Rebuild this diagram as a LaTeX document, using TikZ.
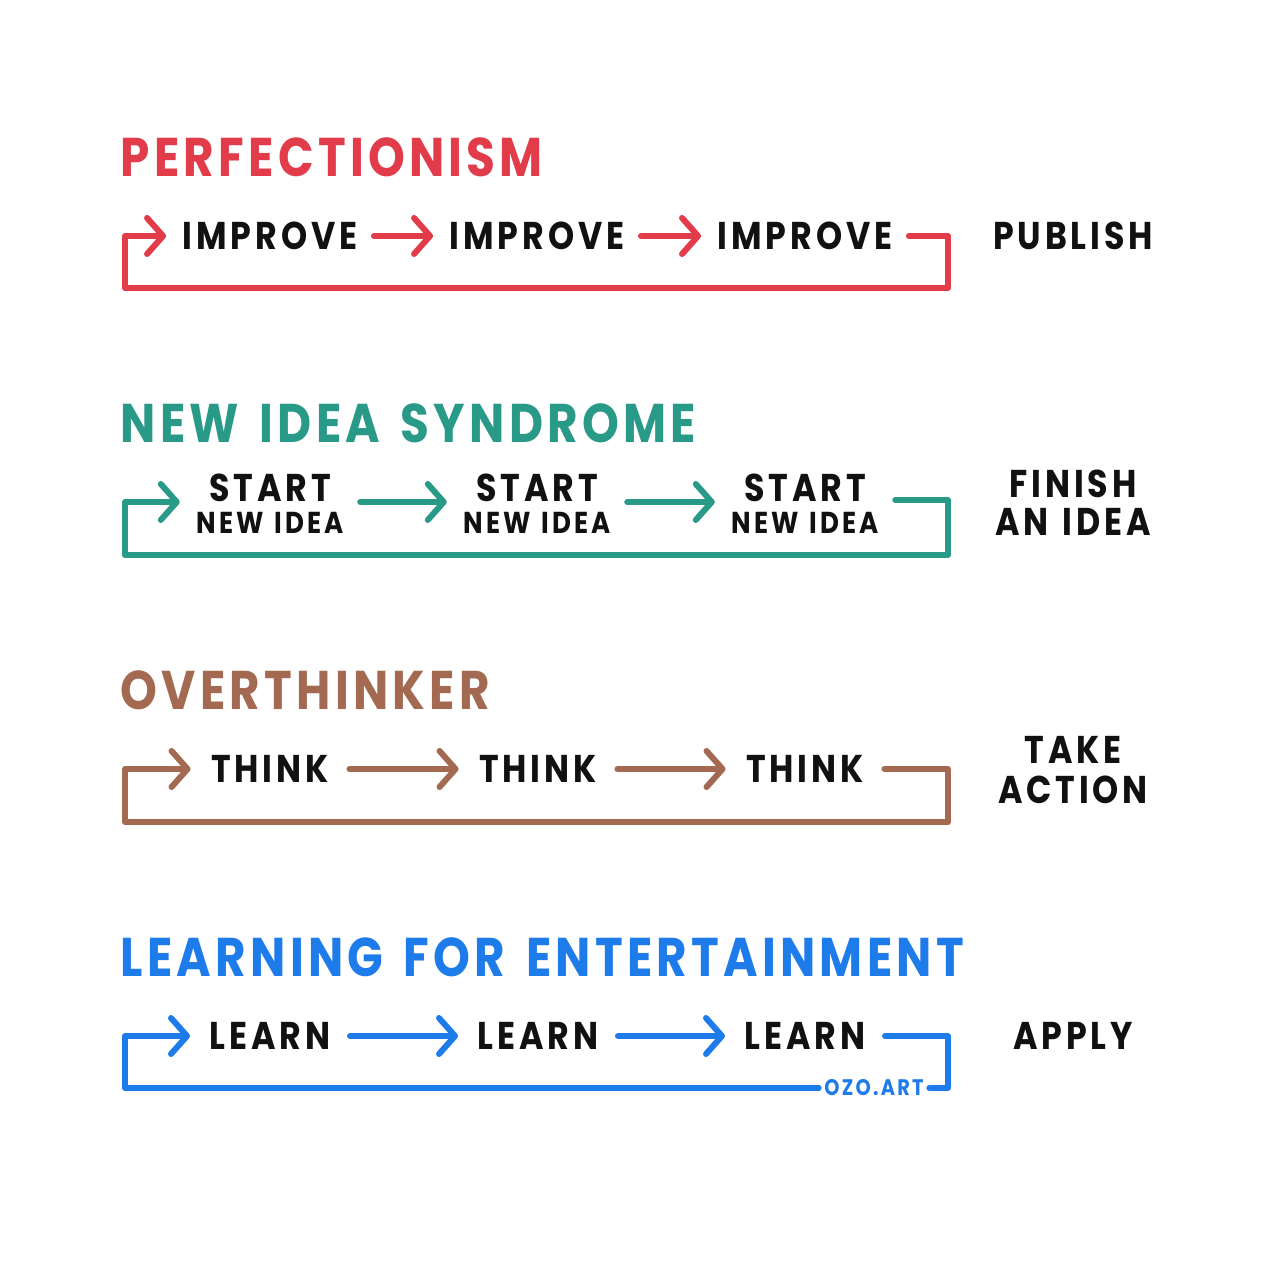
\documentclass[tikz,border=0pt]{standalone}
\usepackage{fontspec}
\usetikzlibrary{arrows.meta}
\newfontfamily\hand[LetterSpace=10,FakeStretch=0.86,WordSpace=1.3]{Poppins}
\newfontfamily\handtitle[LetterSpace=7.8,FakeStretch=0.86,WordSpace=1.45]{Poppins}
\definecolor{cred}{HTML}{E23B4A}
\definecolor{cteal}{HTML}{2A9A88}
\definecolor{cbrown}{HTML}{A36A51}
\definecolor{cblue}{HTML}{1E7BEA}
\definecolor{ink}{HTML}{111111}
\tikzset{
  lw/.style={line width=0.06cm, line cap=round, line join=round},
  arr/.style={lw, -{Straight Barb[length=0.16cm,width=0.36cm,round]}},
  title/.style={anchor=west, inner sep=0pt, font=\handtitle\bfseries\fontsize{15.5}{18}\selectfont},
  item/.style={inner xsep=0.16cm, inner ysep=0pt, text=ink, font=\hand\bfseries\fontsize{11}{13}\selectfont},
  sub/.style={item, align=center, font=\hand\bfseries\fontsize{8.6}{9.2}\selectfont},
  goal/.style={inner sep=0pt, text=ink, align=center, font=\hand\bfseries\fontsize{11}{11}\selectfont},
  sig/.style={inner xsep=0.05cm, inner ysep=0pt, font=\hand\bfseries\fontsize{6.4}{7}\selectfont},
}
\newcommand{\bigline}[1]{{\fontsize{11}{9.2}\selectfont #1}}
\begin{document}
\begin{tikzpicture}[x=0.01cm, y=-0.01cm]
\useasboundingbox (0,0) rectangle (1280,1280);
\fill[white] (0,0) rectangle (1280,1280);

% ---------- Row 1: Perfectionism ----------
\node[title, text=cred] (t1) at (120,157) {PERFECTIONISM};
\node[item] (a1) at (270,236) {IMPROVE};
\node[item] (a2) at (537,236) {IMPROVE};
\node[item] (a3) at (805,236) {IMPROVE};
\node[goal] (g1) at (1073,236) {PUBLISH};
\coordinate (a-rt) at (948,236);
\coordinate (a-rb) at (948,288);
\coordinate (a-lb) at (125,288);
\coordinate (a-lt) at (125,236);
\draw[arr, cred] (a1) -- (a2);
\draw[arr, cred] (a2) -- (a3);
\draw[arr, cred] (a3.east) -- (a-rt) -- (a-rb) -- (a-lb) -- (a-lt) -- (a1.west);

% ---------- Row 2: New idea syndrome ----------
\node[title, text=cteal] (t2) at (120,423) {NEW IDEA SYNDROME};
\node[sub] (b1) at (270,504) {\bigline{START}\\NEW IDEA};
\node[sub] (b2) at (537,504) {\bigline{START}\\NEW IDEA};
\node[sub] (b3) at (805,504) {\bigline{START}\\NEW IDEA};
\node[goal, font=\hand\bfseries\fontsize{11}{10.8}\selectfont] (g2) at (1073,503) {FINISH\\AN IDEA};
\coordinate (b-rt) at (948,500);
\coordinate (b-rb) at (948,555);
\coordinate (b-lb) at (125,555);
\coordinate (b-lt) at (125,502);
\draw[arr, cteal] (b1.east |- 0,502) -- (b2.west |- 0,502);
\draw[arr, cteal] (b2.east |- 0,502) -- (b3.west |- 0,502);
\draw[arr, cteal] (b3.east |- 0,500) -- (b-rt) -- (b-rb) -- (b-lb) -- (b-lt) -- (b1.west |- 0,502);

% ---------- Row 3: Overthinker ----------
\node[title, text=cbrown] (t3) at (120,690) {OVERTHINKER};
\node[item, inner xsep=0.2cm] (c1) at (270,769) {THINK};
\node[item, inner xsep=0.2cm] (c2) at (538,769) {THINK};
\node[item, inner xsep=0.2cm] (c3) at (805,769) {THINK};
\node[goal, font=\hand\bfseries\fontsize{11}{11.4}\selectfont] (g3) at (1073,770) {TAKE\\ACTION};
\coordinate (c-rt) at (948,769);
\coordinate (c-rb) at (948,822);
\coordinate (c-lb) at (125,822);
\coordinate (c-lt) at (125,769);
\draw[arr, cbrown] (c1) -- (c2);
\draw[arr, cbrown] (c2) -- (c3);
\draw[arr, cbrown] (c3.east) -- (c-rt) -- (c-rb) -- (c-lb) -- (c-lt) -- (c1.west);

% ---------- Row 4: Learning for entertainment ----------
\node[title, text=cblue] (t4) at (120,957) {LEARNING FOR ENTERTAINMENT};
\node[item, inner xsep=0.19cm] (d1) at (270,1036) {LEARN};
\node[item, inner xsep=0.19cm] (d2) at (538,1036) {LEARN};
\node[item, inner xsep=0.19cm] (d3) at (805,1036) {LEARN};
\node[goal] (g4) at (1073,1036) {APPLY};
\node[sig, text=cblue] (ozo) at (874,1088) {OZO.ART};
\coordinate (d-rt) at (948,1036);
\coordinate (d-rb) at (948,1088);
\coordinate (d-lb) at (125,1088);
\coordinate (d-lt) at (125,1036);
\draw[arr, cblue] (d1) -- (d2);
\draw[arr, cblue] (d2) -- (d3);
\draw[lw, cblue] (d3.east) -- (d-rt) -- (d-rb) -- (ozo.east);
\draw[arr, cblue] (ozo.west) -- (d-lb) -- (d-lt) -- (d1.west);
\end{tikzpicture}
\end{document}
